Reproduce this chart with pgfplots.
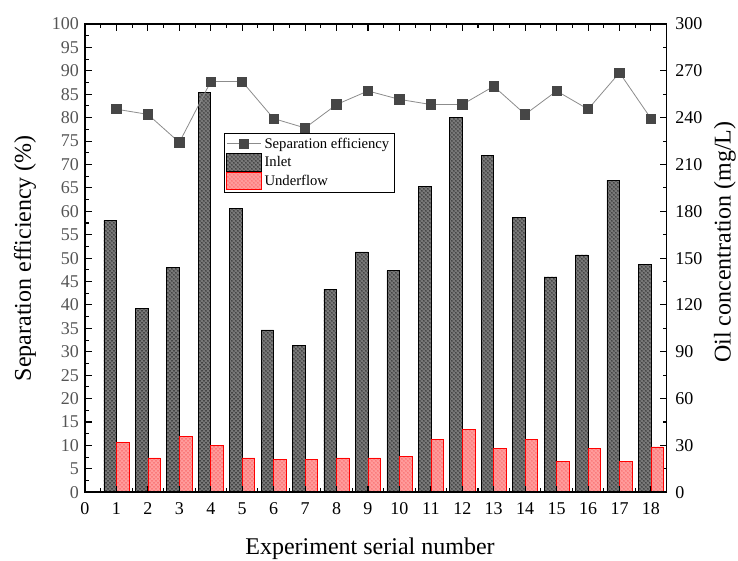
\documentclass[border=0pt]{standalone}
\usepackage{pgfplots}
\pgfplotsset{compat=1.18}
\usetikzlibrary{patterns}
\usepackage{fontspec}
\setmainfont{Liberation Serif}

\definecolor{inletfill}{RGB}{120,120,120}
\definecolor{underfill}{RGB}{255,155,155}
\definecolor{underdot}{RGB}{245,80,80}
\definecolor{markc}{RGB}{70,70,70}
\definecolor{linec}{RGB}{140,140,140}
\definecolor{ltick}{RGB}{85,85,85}

\pgfplotsset{common/.style={
  scale only axis, width=436.3pt, height=351.2pt,
  xmin=0, xmax=18.5,
  tick align=inside,
  major tick length=5pt, minor tick length=3pt,
  every tick/.style={black, line width=0.8pt},
  axis line style={line width=1.2pt},
  tick label style={font=\fontsize{13.5}{15}\selectfont},
  /pgf/number format/assume math mode=true,
  label style={font=\fontsize{18}{21}\selectfont},
},
barleg/.style={legend image code/.code={\draw[##1] (0pt,-6.5pt) rectangle (26pt,6.5pt);}},
lineleg/.style={legend image code/.code={\draw[##1, mark repeat=2, mark phase=2] plot coordinates {(0pt,0pt) (13pt,0pt) (26pt,0pt)};}},
}

\pgfplotstableread{
x inlet under
1 174 32
2 118 22
3 144 36
4 256 30
5 182 22
6 104 21
7 94 21
8 130 22
9 154 22
10 142 23
11 196 34
12 240 40
13 216 28
14 176 34
15 138 20
16 152 28
17 200 20
18 146 29
}\conc

\pgfplotstableread{
x eff
1 81.8
2 80.7
3 74.7
4 87.7
5 87.7
6 79.8
7 77.8
8 82.8
9 85.7
10 83.9
11 82.8
12 82.8
13 86.7
14 80.7
15 85.7
16 81.8
17 89.6
18 79.8
}\eff

\begin{document}
\begin{tikzpicture}
\begin{axis}[common, name=ax2,
  ymin=0, ymax=300, axis y line*=right, hide x axis,
  ytick={0,30,...,300}, minor y tick num=1,
  yticklabel style={xshift=3pt},
  ylabel={Oil concentration (mg/L)},
  ylabel style={at={(axis description cs:1.1,0.534)}, anchor=center},
]
\addplot[ybar, bar width=0.4, bar shift=-0.2, draw=black, line width=0.5pt,
  fill=inletfill, postaction={pattern=crosshatch dots, pattern color=black}]
  table[x=x, y=inlet] {\conc};
\addplot[ybar, bar width=0.4, bar shift=0.2, draw=red, line width=0.5pt,
  fill=underfill, postaction={pattern=crosshatch dots, pattern color=underdot}]
  table[x=x, y=under] {\conc};
\end{axis}
\begin{axis}[common, name=ax1,
  ymin=0, ymax=100, ytick={0,5,...,100}, minor y tick num=1, ytick pos=left,
  yticklabel style={text=ltick, xshift=-1pt},
  xtick={0,...,18}, minor x tick num=1, xtick pos=both, xticklabel pos=bottom,
  xticklabel style={yshift=-4pt},
  xlabel={Experiment serial number},
  ylabel={Separation efficiency (\%)},
  xlabel style={at={(axis description cs:0.49,-0.12)}, anchor=center},
  ylabel style={at={(axis description cs:-0.103,0.5)}, anchor=center},
  legend style={at={(rel axis cs:0.239,0.768)}, anchor=north west, draw=black,
    line width=0.6pt, font=\fontsize{11}{12}\selectfont, row sep=0.5pt,
    inner sep=1.5pt},
  legend cell align=left,
]
\addplot[linec, line width=0.6pt, mark=square*, mark size=3.5pt,
  mark options={fill=markc, draw=markc}, lineleg]
  table[x=x, y=eff] {\eff};
\addlegendentry{Separation efficiency}
\addlegendimage{draw=black, line width=0.5pt, fill=inletfill, postaction={pattern=crosshatch dots, pattern color=black}, barleg}
\addlegendentry{Inlet}
\addlegendimage{draw=red, line width=0.5pt, fill=underfill, postaction={pattern=crosshatch dots, pattern color=underdot}, barleg}
\addlegendentry{Underflow}
\end{axis}
\pgfresetboundingbox
\path[use as bounding box] ([shift={(-63.75pt,-51.5pt)}]ax1.south west) rectangle ([shift={(53.5pt,18pt)}]ax1.north east);
\end{tikzpicture}
\end{document}
